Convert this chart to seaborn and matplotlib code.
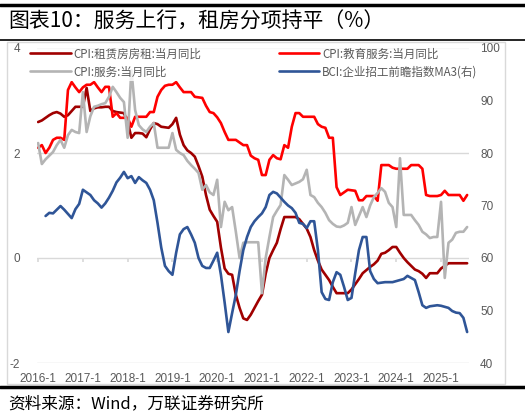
import numpy as np
import pandas as pd
import matplotlib.pyplot as plt
import seaborn as sns
from matplotlib.patches import Rectangle
from matplotlib.lines import Line2D

## month axis: 2016-1 .. 2025-8
months = pd.period_range("2016-01", "2025-08", freq="M")
tick_labels = ["2016-1", "2017-1", "2018-1", "2019-1", "2020-1",
               "2021-1", "2022-1", "2023-1", "2024-1", "2025-1"]

## CPI: rent, y/y %
rent = [2.59, 2.62, 2.67, 2.72, 2.76, 2.78, 2.75, 2.69, 2.72, 2.80,
        2.88, 2.88, 2.88, 3.24, 2.80, 2.85, 2.87, 2.87, 2.88, 2.88,
        2.80, 2.78, 2.77, 2.76, 2.60, 2.29, 2.38, 2.38, 2.37, 2.30,
        2.45, 2.57, 2.55, 2.50, 2.49, 2.48, 2.55, 2.67, 2.35, 2.15,
        2.05, 2.00, 1.93, 1.75, 1.55, 1.20, 0.92, 0.80, 0.69, 0.20,
        -0.20, -0.30, -0.32, -0.70, -0.95, -1.15, -1.18, -1.08, -0.95, -0.82,
        -0.70, -0.30, 0.00, 0.15, 0.29, 0.55, 0.78, 0.78, 0.78, 0.78,
        0.74, 0.65, 0.56, 0.40, 0.15, -0.05, -0.22, -0.32, -0.42, -0.55,
        -0.67, -0.67, -0.67, -0.67, -0.60, -0.50, -0.40, -0.29, -0.23, -0.17,
        -0.12, -0.05, 0.08, 0.10, 0.15, 0.21, 0.21, 0.10, 0.00, -0.08,
        -0.15, -0.22, -0.25, -0.30, -0.38, -0.29, -0.29, -0.29, -0.20, -0.15,
        -0.10, -0.10, -0.10, -0.10, -0.10, -0.10]

## CPI: education services, y/y %
edu = [2.10, 2.15, 2.00, 2.10, 2.25, 2.29, 2.29, 2.25, 3.20, 3.35,
       3.25, 3.16, 3.25, 3.30, 3.30, 3.35, 3.25, 3.16, 3.26, 3.26,
       2.69, 2.76, 2.67, 2.67, 2.67, 2.50, 2.69, 2.69, 2.69, 2.69,
       2.78, 2.78, 3.07, 3.20, 3.28, 3.30, 3.30, 3.35, 3.25, 3.16,
       3.16, 3.16, 3.07, 3.06, 3.05, 2.90, 2.78, 2.76, 2.68, 2.57,
       2.40, 2.25, 2.25, 2.25, 2.20, 2.15, 2.15, 1.95, 1.90, 1.87,
       1.58, 1.58, 1.87, 1.96, 1.90, 1.88, 2.15, 2.10, 2.50, 2.76,
       2.76, 2.69, 2.69, 2.69, 2.69, 2.55, 2.50, 2.48, 2.29, 2.29,
       1.35, 1.20, 1.25, 1.30, 1.29, 1.28, 1.10, 1.10, 1.18, 1.18,
       1.18, 1.09, 1.77, 1.77, 1.77, 1.72, 1.70, 1.70, 1.70, 1.70,
       1.77, 1.77, 1.77, 1.70, 1.20, 1.18, 1.18, 1.18, 1.20, 1.28,
       1.20, 1.20, 1.20, 1.20, 1.09, 1.20]

## CPI: services, y/y %
service = [2.19, 1.79, 1.88, 1.95, 2.02, 2.15, 2.25, 2.10, 2.34, 2.44,
           2.40, 2.38, 3.16, 2.40, 2.70, 2.88, 2.90, 2.93, 2.95, 3.07,
           3.26, 3.16, 3.05, 2.97, 2.29, 3.58, 2.82, 2.53, 2.45, 2.40,
           2.50, 2.57, 2.10, 2.10, 2.10, 2.10, 2.38, 2.06, 2.00, 1.96,
           1.85, 1.77, 1.70, 1.62, 1.30, 1.39, 1.25, 1.20, 1.49, 0.59,
           1.07, 0.91, 0.97, 0.50, 0.00, 0.29, 0.30, 0.30, 0.30, 0.30,
           -0.67, 0.00, 0.40, 0.78, 0.90, 1.01, 1.58, 1.49, 1.39, 1.42,
           1.45, 1.50, 1.68, 1.20, 1.16, 1.05, 0.97, 0.86, 0.72, 0.65,
           0.60, 0.59, 0.62, 0.67, 0.97, 0.63, 0.80, 0.97, 0.78, 1.00,
           1.16, 1.24, 1.33, 1.26, 1.05, 0.97, 0.59, 1.90, 0.82, 0.82,
           0.82, 0.72, 0.63, 0.50, 0.45, 0.38, 0.40, 0.40, 1.07, -0.38,
           0.29, 0.35, 0.48, 0.50, 0.50, 0.59]

## BCI hiring forward index, 3m avg (right axis)
bci = [np.nan, np.nan, 68.0, 68.6, 68.5, 69.2, 69.9, 69.2, 68.4, 67.6,
       69.3, 70.3, 73.0, 72.5, 72.0, 71.0, 70.4, 69.6, 70.4, 71.5,
       72.8, 74.4, 75.3, 76.4, 75.2, 75.6, 74.3, 75.4, 74.8, 74.3,
       73.0, 71.0, 66.7, 62.0, 58.5, 57.5, 56.8, 61.0, 64.5, 65.5,
       65.9, 64.5, 62.9, 60.0, 58.5, 58.1, 58.1, 59.5, 61.0, 56.8,
       51.5, 45.9, 49.5, 53.0, 57.5, 61.5, 64.0, 65.9, 67.0, 67.8,
       68.5, 69.7, 72.0, 72.6, 72.3, 71.5, 70.7, 70.0, 69.5, 68.6,
       66.7, 66.5, 65.7, 67.0, 67.0, 61.5, 53.5, 52.2, 52.0, 55.4,
       57.3, 56.8, 54.5, 52.0, 52.4, 57.1, 61.5, 64.0, 64.0, 57.5,
       56.0, 55.2, 55.3, 55.4, 55.4, 55.4, 55.6, 55.8, 56.0, 56.6,
       56.2, 55.8, 53.5, 51.0, 50.5, 50.8, 50.9, 51.0, 50.9, 50.7,
       50.5, 49.9, 49.6, 49.5, 48.6, 45.9]

names = ["CPI:租赁房房租:当月同比", "CPI:教育服务:当月同比",
         "CPI:服务:当月同比", "BCI:企业招工前瞻指数MA3(右)"]
colors = ["#A00000", "#FF0000", "#B4B4B4", "#2F5597"]

df = pd.DataFrame({"m": np.arange(len(months)), "rent": rent, "edu": edu,
                   "service": service, "bci": bci})

sns.set_theme(style="white")
plt.rcParams["font.family"] = ["Noto Sans CJK SC", "DejaVu Sans"]
plt.rcParams["axes.unicode_minus"] = False

fig = plt.figure(figsize=(5.25, 4.19), dpi=100)
ax = fig.add_axes([37 / 525, 1 - 363 / 419, 432 / 525, 315 / 419])
ax.patch.set_alpha(0)

lw = 1.9
sns.lineplot(data=df, x="m", y="rent", ax=ax, color=colors[0], lw=lw)
sns.lineplot(data=df, x="m", y="edu", ax=ax, color=colors[1], lw=lw)
sns.lineplot(data=df, x="m", y="service", ax=ax, color=colors[2], lw=lw)

ax2 = ax.twinx()
sns.lineplot(data=df, x="m", y="bci", ax=ax2, color=colors[3], lw=lw)

ax.set_xlim(-0.3, 115.5)
ax.set_ylim(-2, 4)
ax.set_yticks([-2, 0, 2, 4])
ax.set_yticklabels(["-2", "0", "2", "4"])
ax2.set_ylim(40, 100)
ax2.set_yticks(range(40, 101, 10))
ax.set_xticks(range(0, 109, 12))
ax.set_xticklabels(tick_labels)
for a in (ax, ax2):
    a.set_xlabel("")
    a.set_ylabel("")
    for s in a.spines.values():
        s.set_visible(False)
ax.grid(axis="y", color="#D9D9D9", lw=1)
ax.grid(axis="x", visible=False)
ax.tick_params(axis="x", length=0, pad=7, labelcolor="#595959")
ax.tick_params(axis="y", length=0, pad=12, labelcolor="#595959")
ax2.tick_params(axis="y", length=0, pad=8, labelcolor="#595959")
ax2.yaxis.set_zorder(10)
for lab in ax.get_xticklabels() + ax.get_yticklabels() + ax2.get_yticklabels():
    lab.set_fontfamily("Liberation Sans")
    lab.set_fontsize(8.5)

# small ticks on the zero line, like the excel axis
sec = ax.secondary_xaxis(1 / 3)
sec.set_xticks(range(0, 109, 12))
sec.tick_params(axis="x", length=3, direction="out", color="#D9D9D9", labelbottom=False)
sec.spines["bottom"].set_visible(False)

handles = [Line2D([], [], color=c, lw=lw) for c in colors]
order = [0, 2, 1, 3]
leg = ax2.legend([handles[i] for i in order], [names[i] for i in order],
                 ncol=2, loc="upper left", bbox_to_anchor=(28 / 525, 1 - 45 / 419),
                 bbox_transform=fig.transFigure, fontsize=8.3, handlelength=3.5,
                 handletextpad=0.25, columnspacing=6.7, labelspacing=0.45,
                 frameon=True, borderpad=0.2, borderaxespad=0)
leg.get_frame().set_facecolor("white")
leg.get_frame().set_edgecolor("none")
for t in leg.get_texts():
    t.set_color("#595959")

# frame, rules, title and source
fig.add_artist(Rectangle((7 / 525, 1 - 384 / 419), 498 / 525, 342 / 419,
                         transform=fig.transFigure, fill=False, ec="#D9D9D9", lw=1))
fig.add_artist(Line2D([0, 1], [1 - 5 / 419] * 2, transform=fig.transFigure, color="black", lw=2.5))
fig.add_artist(Line2D([0, 1], [1 - 40 / 419] * 2, transform=fig.transFigure, color="black", lw=1.2))
fig.add_artist(Line2D([0, 1], [1 - 387 / 419] * 2, transform=fig.transFigure, color="black", lw=2.5))
fig.text(8 / 525, 1 - 22 / 419, "图表10：服务上行，租房分项持平（%）", fontsize=15,
         va="center", ha="left", color="black")
fig.text(8 / 525, 1 - 404 / 419, "资料来源：Wind，万联证券研究所", fontsize=12,
         va="center", ha="left", color="black", style="italic")

fig.savefig("out.png", dpi=100, facecolor="white")
